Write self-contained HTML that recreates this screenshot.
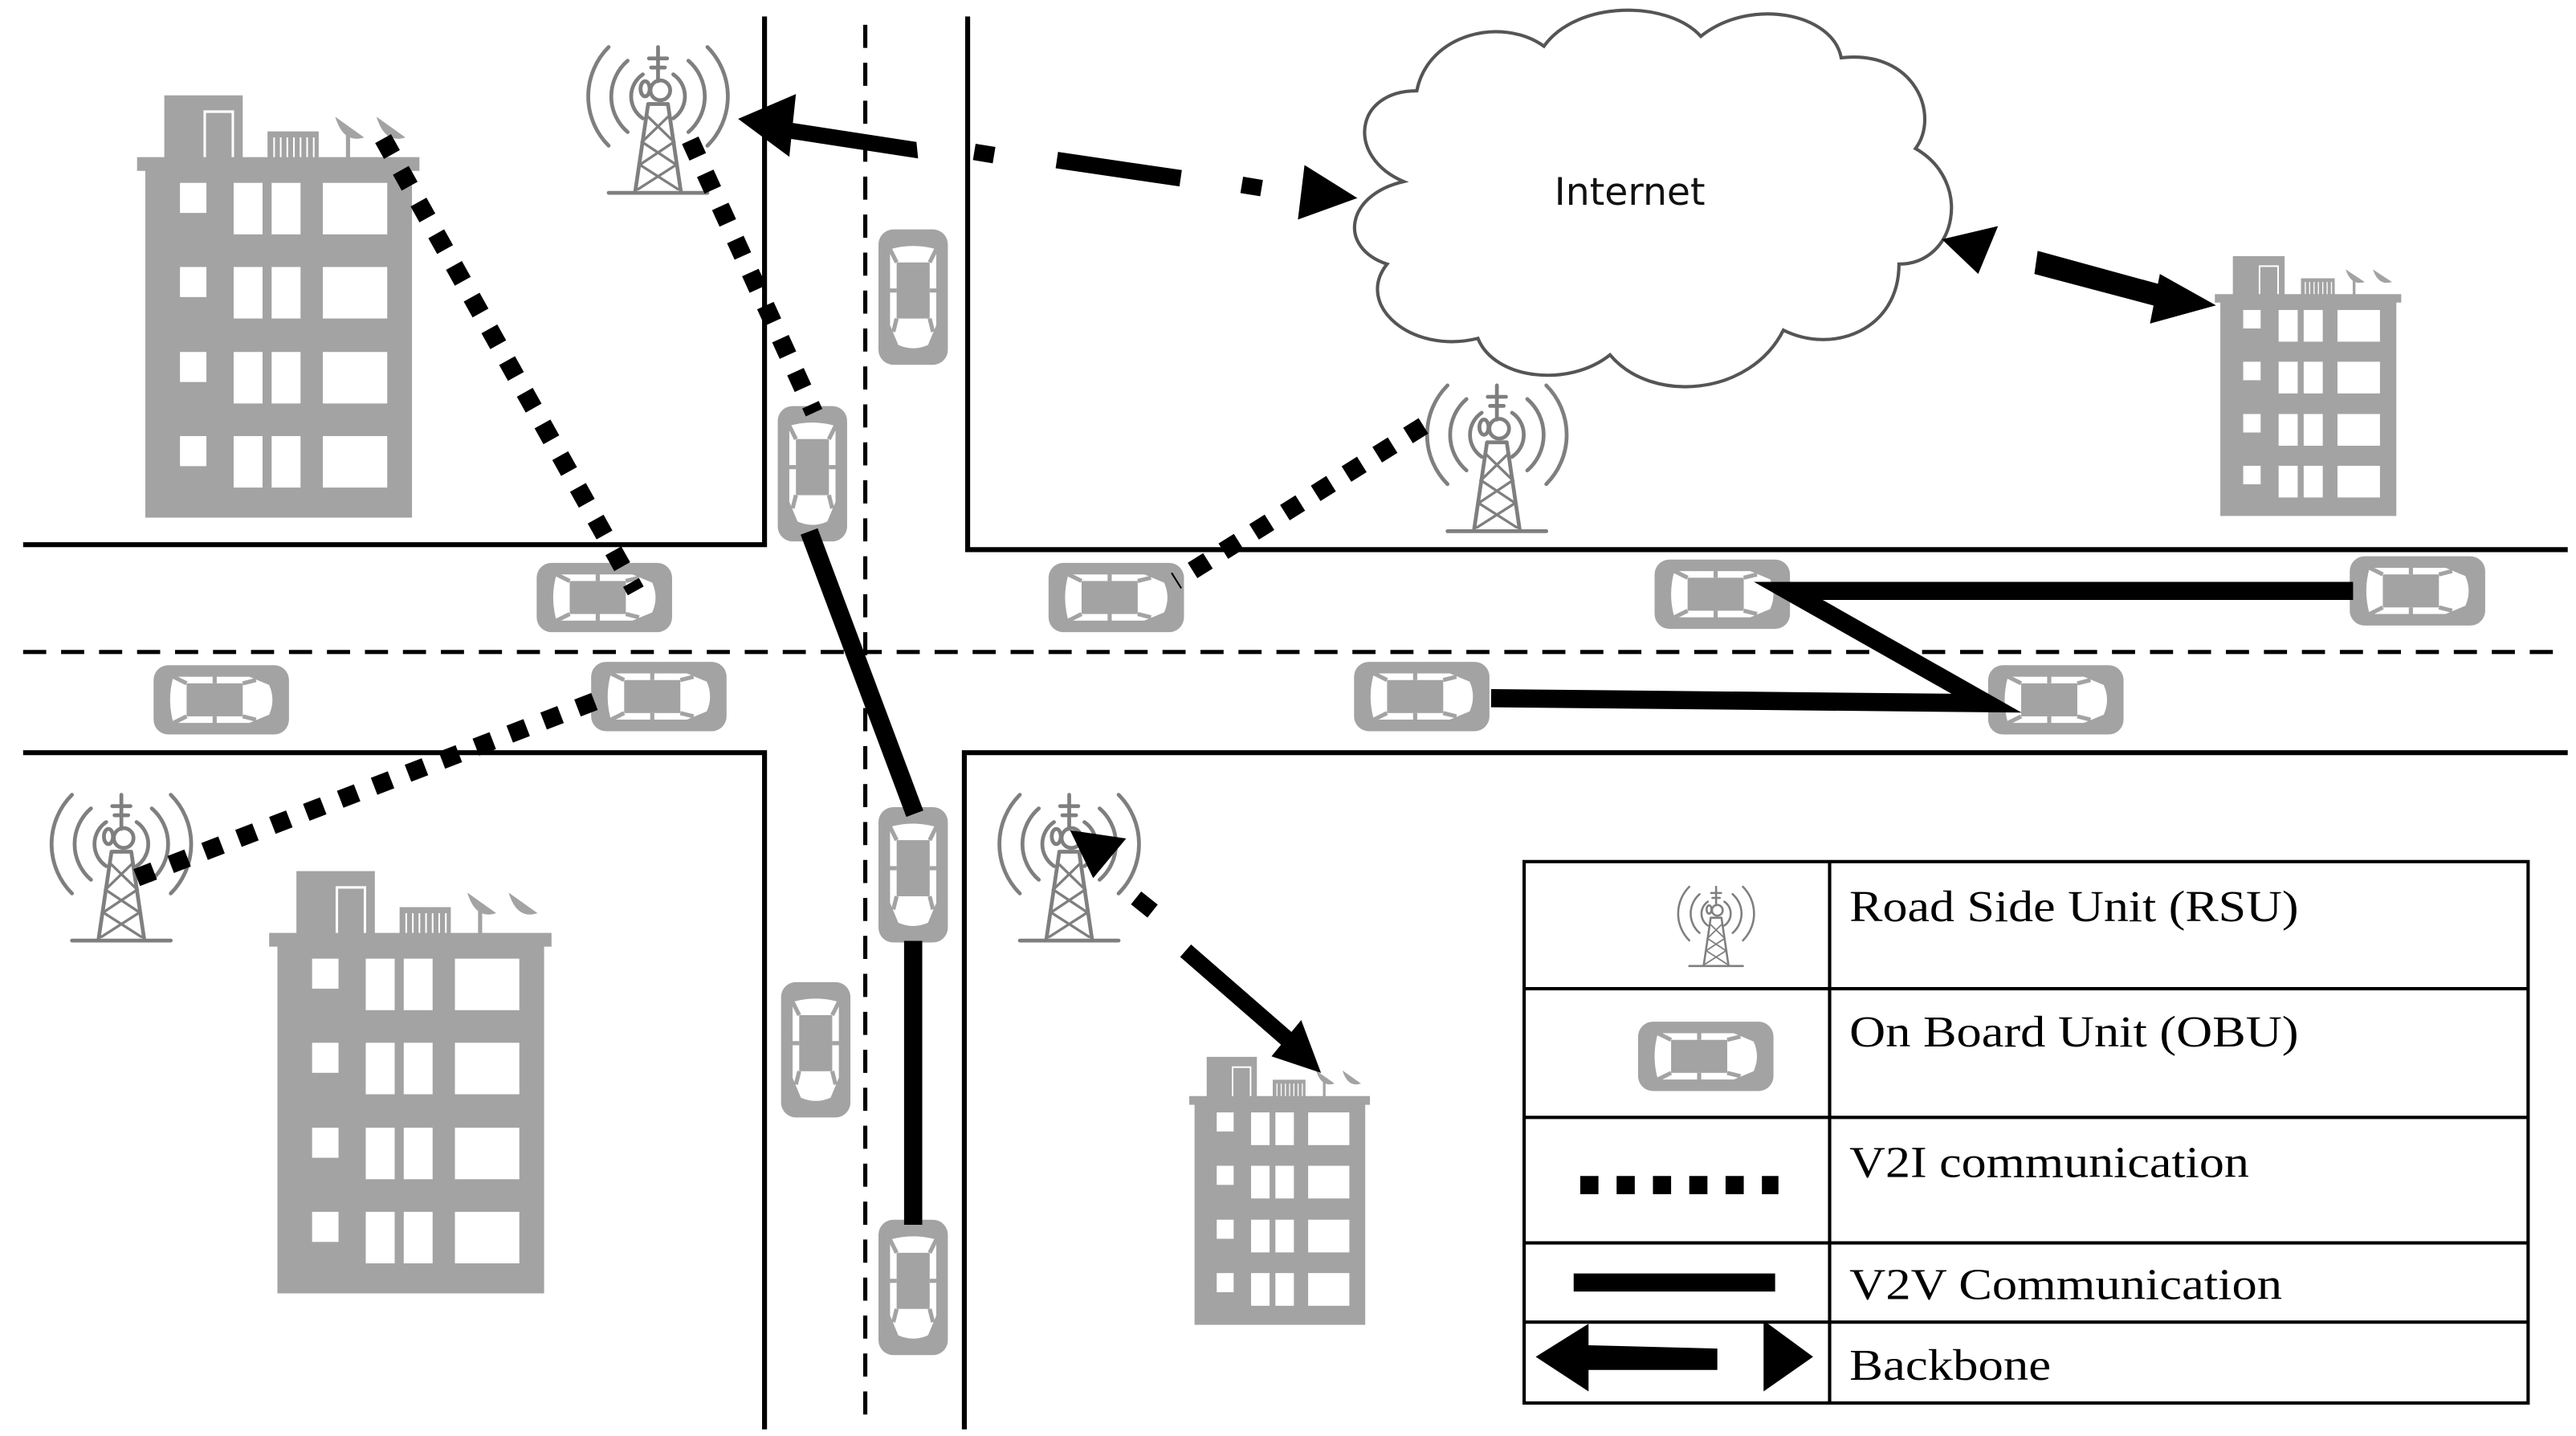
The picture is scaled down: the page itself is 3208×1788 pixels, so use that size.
<!DOCTYPE html>
<html><head><meta charset="utf-8"><style>
html,body{margin:0;padding:0;background:#fff}
svg{display:block}
</style></head><body>
<svg width="3208" height="1788" viewBox="0 0 1560 870" preserveAspectRatio="none" xmlns="http://www.w3.org/2000/svg">
<defs>
<g id="bld">
 <rect x="43" y="13" width="95" height="75" fill="#a3a3a3"/>
 <path d="M92 88 V32 H126 V88" fill="none" stroke="#fff" stroke-width="3"/>
 <rect x="168" y="55" width="62" height="33" fill="#a3a3a3"/>
 <g stroke="#fff" stroke-width="2"><line x1="176" y1="62" x2="176" y2="86"/><line x1="184" y1="62" x2="184" y2="86"/><line x1="192" y1="62" x2="192" y2="86"/><line x1="200" y1="62" x2="200" y2="86"/><line x1="208" y1="62" x2="208" y2="86"/><line x1="216" y1="62" x2="216" y2="86"/><line x1="224" y1="62" x2="224" y2="86"/></g>
 <path d="M250 38 Q260 70 285 62 Z M300 38 Q310 70 335 62 Z" fill="#a3a3a3"/>
 <rect x="263" y="58" width="5" height="30" fill="#a3a3a3"/>
 <rect x="10" y="85" width="342" height="16" fill="#a3a3a3"/>
 <rect x="20" y="100" width="323" height="405" fill="#a3a3a3"/>
 <g fill="#fff">
  <rect x="62" y="115" width="32" height="35"/><rect x="127" y="115" width="35" height="60"/><rect x="173" y="115" width="35" height="60"/><rect x="235" y="115" width="78" height="60"/>
  <rect x="62" y="213" width="32" height="35"/><rect x="127" y="213" width="35" height="60"/><rect x="173" y="213" width="35" height="60"/><rect x="235" y="213" width="78" height="60"/>
  <rect x="62" y="312" width="32" height="35"/><rect x="127" y="312" width="35" height="60"/><rect x="173" y="312" width="35" height="60"/><rect x="235" y="312" width="78" height="60"/>
  <rect x="62" y="410" width="32" height="35"/><rect x="127" y="410" width="35" height="60"/><rect x="173" y="410" width="35" height="60"/><rect x="235" y="410" width="78" height="60"/>
 </g>
</g>
<g id="car">
 <rect x="0" y="0" width="82" height="42" rx="9" fill="#a3a3a3"/>
 <path d="M12 7 H58 L70 12 Q74 21 70 30 L58 35 H12 Q8 21 12 7 Z" fill="#fff"/>
 <rect x="20" y="11" width="34" height="20" fill="#a3a3a3"/>
 <g stroke="#a3a3a3" stroke-width="2.5"><line x1="12" y1="7" x2="20" y2="11"/><line x1="12" y1="35" x2="20" y2="31"/><line x1="62" y1="9" x2="54" y2="11"/><line x1="62" y1="33" x2="54" y2="31"/><line x1="37" y1="5" x2="37" y2="11"/><line x1="37" y1="31" x2="37" y2="37"/></g>
</g>
<g id="twr" fill="none" stroke="#7f7f7f" stroke-width="5" stroke-linecap="round">
 <path d="M105 61 A35 35 0 0 0 105 119 M145 61 A35 35 0 0 1 145 119"/>
 <path d="M85 43 A62 62 0 0 0 85 137 M165 43 A62 62 0 0 1 165 137"/>
 <path d="M60 25 A92 92 0 0 0 60 155 M190 25 A92 92 0 0 1 190 155"/>
 <line x1="125" y1="25" x2="125" y2="70"/><line x1="113" y1="40" x2="137" y2="40"/><line x1="116" y1="52" x2="134" y2="52"/>
 <circle cx="128" cy="82" r="13"/><ellipse cx="108" cy="80" rx="6" ry="10"/>
 <path d="M112 100 L95 215 M138 100 L155 215 M112 100 H138"/>
 <path d="M110 115 L146 150 L101 180 L151 212 M140 115 L104 150 L149 180 L99 212" stroke-width="3.5"/>
 <line x1="60" y1="217" x2="190" y2="217"/>
</g>
</defs>

<g stroke="#000" stroke-width="3" fill="none">
 <path d="M463 10 V330 H14"/>
 <path d="M586 10 V333 H1555"/>
 <path d="M14 456 H463 V866"/>
 <path d="M1555 456 H584 V866"/>
</g>
<g stroke="#000" stroke-width="2.5" stroke-dasharray="14 9">
 <line x1="14" y1="395" x2="1555" y2="395"/>
 <line x1="524" y1="15" x2="524" y2="860"/>
</g>

<path d="M850 110 C815 95 820 55 858 55 C865 20 910 10 935 28 C955 0 1010 0 1030 22 C1060 -2 1110 8 1115 35 C1160 30 1175 70 1160 90 C1195 110 1185 160 1150 160 C1150 200 1110 215 1080 200 C1060 240 1000 245 975 215 C950 235 905 230 895 205 C855 215 820 185 840 160 C810 150 815 118 850 110 Z" fill="#fff" stroke="#555" stroke-width="2"/>
<text x="987" y="124" font-family="DejaVu Sans, Liberation Sans, sans-serif" font-size="23" text-anchor="middle" fill="#111">Internet</text>

<use href="#bld" transform="translate(78,51) scale(0.5,0.52)"/>
<use href="#bld" transform="translate(158,521) scale(0.5,0.52)"/>
<use href="#bld" transform="translate(1338,151) scale(0.33,0.32)"/>
<use href="#bld" transform="translate(717,636) scale(0.32,0.33)"/>

<use href="#twr" transform="translate(341,17) scale(0.46)"/>
<use href="#twr" transform="translate(849,222) scale(0.46)"/>
<use href="#twr" transform="translate(16,470) scale(0.46)"/>
<use href="#twr" transform="translate(590,470) scale(0.46)"/>
<use href="#twr" transform="translate(1008,531) scale(0.25)"/>

<use href="#car" transform="translate(325,341)"/>
<use href="#car" transform="translate(93,403)"/>
<use href="#car" transform="translate(358,401)"/>
<use href="#car" transform="translate(635,341)"/>
<use href="#car" transform="translate(1002,339)"/>
<use href="#car" transform="translate(1423,337)"/>
<use href="#car" transform="translate(820,401)"/>
<use href="#car" transform="translate(1204,403)"/>
<use href="#car" transform="translate(992,619)"/>
<use href="#car" transform="translate(574,139) rotate(90)"/>
<use href="#car" transform="translate(513,246) rotate(90)"/>
<use href="#car" transform="translate(574,489) rotate(90)"/>
<use href="#car" transform="translate(515,595) rotate(90)"/>
<use href="#car" transform="translate(574,739) rotate(90)"/>

<g stroke="#000" stroke-width="11" stroke-dasharray="11 11" fill="none">
 <line x1="232" y1="84" x2="385" y2="358"/>
 <line x1="418" y1="85" x2="493" y2="250"/>
 <line x1="862" y1="258" x2="712" y2="352"/>
 <line x1="360" y1="425" x2="82" y2="532"/>
 <line x1="957" y1="718" x2="1077" y2="718"/>
</g>

<g stroke="#000" stroke-width="11" fill="none" stroke-linejoin="miter">
 <line x1="490" y1="322" x2="554" y2="493"/>
 <line x1="553" y1="570" x2="553" y2="742"/>
 <path d="M1425 358 H1083 L1203 426 L903 423"/>
 <line x1="953" y1="777" x2="1075" y2="777"/>
</g>

<g fill="#000">
 <polygon points="555,86 556,96 478,84 477,74"/>
 <polygon points="447,72 482,57 478,95"/>
 <g stroke="#000" stroke-width="10"><line x1="590" y1="92" x2="602" y2="94"/><line x1="640" y1="97" x2="715" y2="108"/><line x1="752" y1="112" x2="764" y2="114"/></g>
 <polygon points="822,120 790,100 786,133"/>
 <polygon points="1176,145 1210,137 1198,166"/>
 <polygon points="1234,152 1232,166 1315,188 1318,175"/>
 <polygon points="1342,185 1308,166 1302,196"/>
 <polygon points="648,503 682,508 662,532"/>
 <g stroke="#000" stroke-width="10"><line x1="688" y1="544" x2="698" y2="552"/><line x1="718" y1="576" x2="780" y2="630"/></g>
 <polygon points="800,650 770,640 788,618"/>
 <polygon points="930,822 962,802 962,815 1040,817 1040,830 962,830 962,843"/>
 <polygon points="1068,800 1098,822 1068,843"/>
</g>

<g stroke="#000" stroke-width="2" fill="none">
 <rect x="923" y="522" width="608" height="328"/>
 <line x1="1108" y1="522" x2="1108" y2="850"/>
 <line x1="923" y1="599" x2="1531" y2="599"/>
 <line x1="923" y1="677" x2="1531" y2="677"/>
 <line x1="923" y1="753" x2="1531" y2="753"/>
 <line x1="923" y1="801" x2="1531" y2="801"/>
</g>
<g font-family="Liberation Serif, serif" font-size="27" fill="#000">
 <text x="1120" y="558" textLength="272" lengthAdjust="spacingAndGlyphs">Road Side Unit (RSU)</text>
 <text x="1120" y="634" textLength="272" lengthAdjust="spacingAndGlyphs">On Board Unit (OBU)</text>
 <text x="1120" y="713" textLength="242" lengthAdjust="spacingAndGlyphs">V2I communication</text>
 <text x="1120" y="787" textLength="262" lengthAdjust="spacingAndGlyphs">V2V Communication</text>
 <text x="1120" y="836" textLength="122" lengthAdjust="spacingAndGlyphs">Backbone</text>
</g>
</svg>
</body></html>
